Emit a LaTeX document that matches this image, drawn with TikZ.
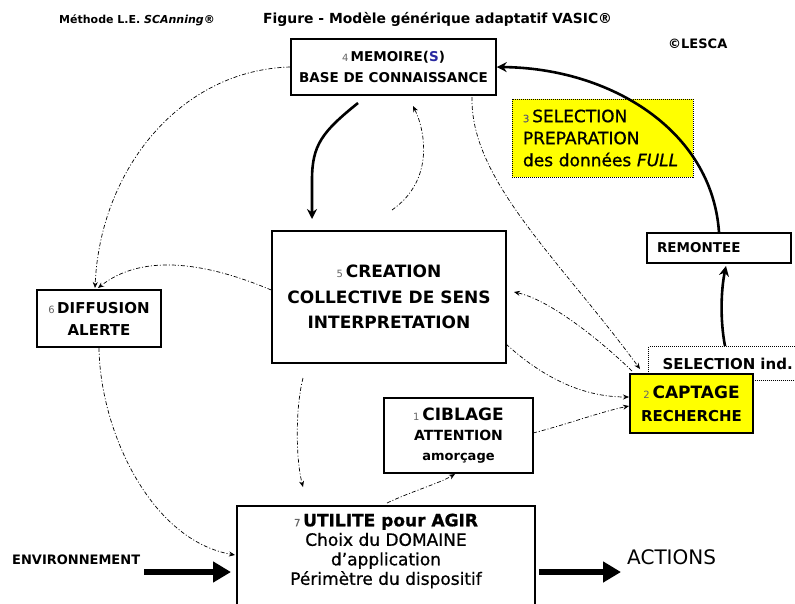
\documentclass[tikz,border=0pt]{standalone}
\usepackage{fontspec}
\setmainfont{DejaVu Sans}
\newfontfamily\medium{DejaVu Sans}[FakeBold=0.8]
\usetikzlibrary{arrows.meta}
\definecolor{yel}{RGB}{255,255,0}
\definecolor{sblue}{RGB}{40,40,160}
\newcommand{\nb}[1]{{\fontsize{10}{10}\selectfont\mdseries\color{black!60}#1}\,}
\begin{document}
\begin{tikzpicture}[x=1pt,y=-1pt,
  box/.style={draw=black, line width=1.5pt, fill=white, inner sep=0pt, align=center},
  txt/.style={inner sep=0pt},
  dd/.style={line width=0.7pt, dash pattern=on 4pt off 2pt on 1pt off 2pt, -{Stealth[length=6pt,width=5pt]}},
  thickarrow/.style={line width=2.6pt, -{Stealth[length=10pt,width=10pt]}},
  bigarrow/.style={line width=5.5pt, -{Triangle[length=18pt,width=20pt]}},
  dotbox/.style={draw=black, line width=1pt, dash pattern=on 1pt off 1pt}
  ]
\useasboundingbox (0,0) rectangle (795,603);

% titles
\node[txt, anchor=west, font=\bfseries\fontsize{11}{13}\selectfont] (meth) at (59,20) {Méthode L.E. \textit{SCAnning}®};
\node[txt, anchor=west, font=\bfseries\fontsize{13.9}{16}\selectfont] (fig) at (263,19) {Figure - Modèle générique adaptatif VASIC®};
\node[txt, anchor=west, font=\bfseries\fontsize{13}{15}\selectfont] (lesca) at (668,44) {©LESCA};

% yellow selection box
\node[dotbox, fill=yel, minimum width=181pt, minimum height=78pt, text width=159pt, align=left, inner sep=0pt,
      font=\medium\fontsize{17}{22}\selectfont] (sel) at (602.5,138) {\nb{3}SELECTION\\PREPARATION\\des données \textit{FULL}};

% boxes
\node[box, minimum width=205pt, minimum height=56pt, font=\bfseries\fontsize{13.5}{21}\selectfont] (mem) at (393.5,67)
  {\nb{4}MEMOIRE({\color{sblue}S})\\BASE DE CONNAISSANCE};
\node[box, minimum width=144pt, minimum height=30pt, text width=124pt, align=left, font=\bfseries\fontsize{13.5}{16}\selectfont] (rem) at (719,248) {REMONTEE};
\node[dotbox, fill=white, anchor=north west, minimum height=34pt, text width=150pt, inner xsep=14pt, inner ysep=0pt, align=left,
      font=\bfseries\fontsize{15}{17}\selectfont] (selind) at (648,346) {SELECTION ind.};
\node[box, fill=yel, minimum width=123pt, minimum height=59pt, font=\bfseries\fontsize{15}{23}\selectfont] (capt) at (691.5,403.5)
  {{\fontsize{17}{23}\selectfont\nb{2}CAPTAGE}\\RECHERCHE};
\node[box, minimum width=234pt, minimum height=132pt, font=\bfseries\fontsize{17}{25.5}\selectfont] (crea) at (389,297)
  {\nb{5}CREATION\\COLLECTIVE DE SENS\\INTERPRETATION};
\node[box, minimum width=124pt, minimum height=57pt, font=\bfseries\fontsize{15}{22}\selectfont] (diff) at (99,318.5)
  {\nb{6}DIFFUSION\\ALERTE};
\node[box, minimum width=149pt, minimum height=75pt, font=\bfseries\fontsize{14}{20}\selectfont] (cibl) at (458.5,435.5)
  {{\fontsize{17}{20}\selectfont\nb{1}CIBLAGE}\\ATTENTION\\{\fontsize{13}{20}\selectfont amorçage}};
\node[box, anchor=north, minimum width=298pt, minimum height=130pt] (util) at (386,505) {};
\node[txt, align=center, font=\medium\fontsize{17}{19.5}\selectfont] (utiltxt) at (386,551)
  {{\bfseries\nb{7}UTILITE pour AGIR}\\Choix du DOMAINE\\d’application\\Périmètre du dispositif};

% outside texts
\node[txt, anchor=west, font=\bfseries\fontsize{13}{16}\selectfont] (env) at (12,560) {ENVIRONNEMENT};
\node[txt, anchor=west, font=\fontsize{20}{24}\selectfont] (act) at (627,557) {ACTIONS};

% coordinates of free ends
\coordinate (m1s) at (358,103);
\coordinate (m1e) at (312,219);
\coordinate (s1s) at (725,346);
\coordinate (s1e) at (726,266);
\coordinate (envS) at (144,572);
\coordinate (envE) at (231,572);
\coordinate (actS) at (539,572);
\coordinate (actE) at (621,572);
\coordinate (dE) at (95,288);
\coordinate (dE2) at (98,288);
\coordinate (cE) at (235,555);
\coordinate (crS) at (303,378);
\coordinate (crE) at (303,487);
\coordinate (uS) at (387,503);
\coordinate (jS) at (392,210);
\coordinate (jE) at (413,106);
\coordinate (iS) at (472,97);
\coordinate (iE) at (640,369);
\coordinate (hS) at (632,371);
\coordinate (hE) at (514,292);
\coordinate (gS) at (506,344);
\coordinate (gE) at (629,397);
\coordinate (fS) at (533,433);
\coordinate (fE) at (629,406);
\coordinate (eE) at (455,474);

% thick arrows
\draw[thickarrow] (m1s) .. controls (322,132) and (312,145) .. (312,180) -- (m1e);
\draw[thickarrow] (rem.north) .. controls (712,130) and (610,68) .. (mem.east);
\draw[thickarrow] (s1s) .. controls (720,320) and (721,290) .. (s1e);
\draw[bigarrow] (envS) -- (envE);
\draw[bigarrow] (actS) -- (actE);

% dash-dot arrows
\draw[dd] (mem.west) .. controls (180,70) and (100,170) .. (dE);
\draw[dd] ([yshift=7pt]crea.west) .. controls (200,260) and (140,255) .. (dE2);
\draw[dd] (diff.south) .. controls (100,430) and (150,540) .. (cE);
\draw[dd] (crS) .. controls (295,410) and (296,460) .. (crE);
\draw[dd] (uS) .. controls (410,492) and (440,483) .. (eE);
\draw[dd] (fS) .. controls (565,425) and (600,412) .. (fE);
\draw[dd] (gS) .. controls (540,375) and (580,397) .. (gE);
\draw[dd] (hS) .. controls (600,340) and (550,300) .. (hE);
\draw[dd] (iS) .. controls (470,180) and (560,260) .. (iE);
\draw[dd] (jS) .. controls (435,180) and (425,130) .. (jE);
\end{tikzpicture}
\end{document}
